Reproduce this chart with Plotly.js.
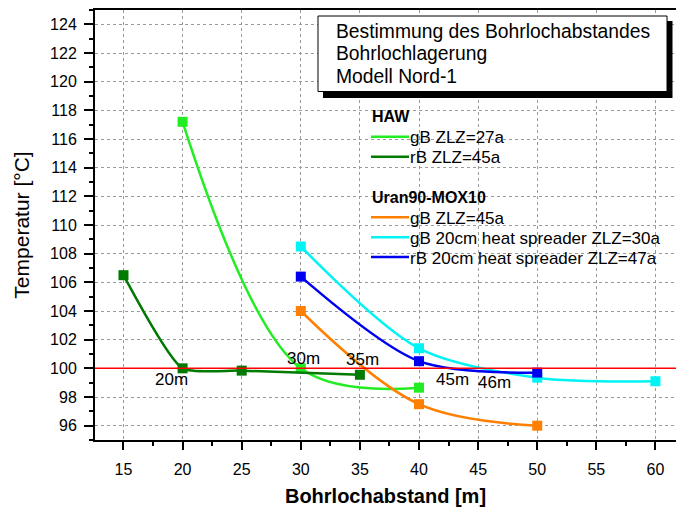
<!DOCTYPE html>
<html>
<head>
<meta charset="utf-8">
<script src="https://cdn.plot.ly/plotly-3.0.1.min.js"></script>
<style>
  html, body { margin: 0; padding: 0; background: #fff; }
  #chart { width: 676px; height: 507px; }
</style>
</head>
<body>
<div id="chart"></div>
<script>
// Borehole spacing vs. peak temperature, model "Nord-1"
// HAW canisters
const hawGbX = [20, 30, 40];
const hawGbY = [117.2, 100.0, 98.65];
const hawRbX = [15, 20, 25, 35];
const hawRbY = [106.5, 100.0, 99.84, 99.55];
// Uran90-MOX10 canisters
const moxGbX = [30, 40, 50];
const moxGbY = [104.0, 97.5, 96.0];
const moxGbSpreadX = [30, 40, 50, 60];
const moxGbSpreadY = [108.5, 101.4, 99.35, 99.1];
const moxRbSpreadX = [30, 40, 50];
const moxRbSpreadY = [106.4, 100.5, 99.7];

// Temperature limit
const limitTemp = 100;

const groupTitles = ['HAW', 'Uran90-MOX10'];
const seriesNames = [
  'gB ZLZ=27a',
  'rB ZLZ=45a',
  'gB ZLZ=45a',
  'gB 20cm heat spreader ZLZ=30a',
  'rB 20cm heat spreader ZLZ=47a'
];
const seriesColors = ['#22ec22', '#007a00', '#ff8000', '#00f4f4', '#0000f0'];
const seriesX = [hawGbX, hawRbX, moxGbX, moxGbSpreadX, moxRbSpreadX];
const seriesY = [hawGbY, hawRbY, moxGbY, moxGbSpreadY, moxRbSpreadY];
// curve tension per series (keeps the decay curves from overshooting)
const seriesSmoothing = [1.0, 0.55, 1.0, 0.85, 0.85];

// Spacing labels at the 100 °C crossing
const spacingLabels = ['20m', '30m', '35m', '45m', '46m'];

const FONT = 'Liberation Sans, Arial, sans-serif';

const traces = seriesNames.map((name, i) => ({
  type: 'scatter',
  mode: 'lines+markers',
  name: name,
  x: seriesX[i],
  y: seriesY[i],
  line: { color: seriesColors[i], width: 2.5, shape: 'spline', smoothing: seriesSmoothing[i] },
  marker: { symbol: 'square', size: 10, color: seriesColors[i] },
  showlegend: false,
  cliponaxis: false
}));

// plot area in pixels: left 95, top 10, width 581, height 430
const L = 95, T = 10, W = 581, H = 430;
const px = v => (v - L) / W;
const py = v => (T + H - v) / H;

const shapes = [];
// white backdrop behind the key
shapes.push({ type: 'rect', xref: 'paper', yref: 'paper', layer: 'between',
  x0: px(342), x1: 1, y0: py(295), y1: py(92),
  line: { width: 0 }, fillcolor: '#ffffff' });
// limit line
shapes.push({ type: 'line', xref: 'paper', yref: 'y', layer: 'above',
  x0: 0, x1: 1, y0: limitTemp, y1: limitTemp,
  line: { color: '#ff0000', width: 1.5 } });
// title box with drop shadow
shapes.push({ type: 'rect', xref: 'paper', yref: 'paper', layer: 'above',
  x0: px(323), x1: px(672.5), y0: py(98), y1: py(21),
  line: { width: 0 }, fillcolor: '#000000' });
shapes.push({ type: 'rect', xref: 'paper', yref: 'paper', layer: 'above',
  x0: px(318), x1: px(667), y0: py(91.5), y1: py(16),
  line: { color: '#000000', width: 1 }, fillcolor: '#ffffff' });

const annotations = [];
['Bestimmung des Bohrlochabstandes', 'Bohrlochlagerung', 'Modell Nord-1'].forEach((t, i) => {
  annotations.push({ xref: 'paper', yref: 'paper', x: px(334), y: py([31.5, 53.5, 76][i]),
    xanchor: 'left', yanchor: 'middle', text: t, showarrow: false,
    font: { family: FONT, size: 19.3, color: '#000' } });
});

// key: group titles and entries
const titleRows = [117, 197];
const entryRows = [136.7, 156.7, 217.3, 237.3, 257];
groupTitles.forEach((t, i) => {
  annotations.push({ xref: 'paper', yref: 'paper', x: px(370), y: py(titleRows[i]),
    xanchor: 'left', yanchor: 'middle', text: '<b>' + t + '</b>', showarrow: false,
    font: { family: FONT, size: 16, color: '#000' } });
});
seriesNames.forEach((n, i) => {
  shapes.push({ type: 'line', xref: 'paper', yref: 'paper', layer: 'above',
    x0: px(371), x1: px(409), y0: py(entryRows[i]), y1: py(entryRows[i]),
    line: { color: seriesColors[i], width: 2.5 } });
  annotations.push({ xref: 'paper', yref: 'paper', x: px(408), y: py(entryRows[i] + 1),
    xanchor: 'left', yanchor: 'middle', text: n, showarrow: false,
    font: { family: FONT, size: 17, color: '#000' } });
});

// spacing labels
const labelPos = [[19.1, 99.2], [30.2, 100.7], [35.2, 100.6], [42.8, 99.25], [46.35, 99.04]];
spacingLabels.forEach((t, i) => {
  annotations.push({ xref: 'x', yref: 'y', x: labelPos[i][0], y: labelPos[i][1],
    xanchor: 'center', yanchor: 'middle', text: t, showarrow: false,
    font: { family: FONT, size: 17, color: '#000' } });
});

const layout = {
  width: 676,
  height: 507,
  margin: { l: L, r: 0, t: T, b: 507 - T - H },
  paper_bgcolor: '#ffffff',
  plot_bgcolor: '#ffffff',
  showlegend: false,
  font: { family: FONT, size: 16, color: '#000' },
  xaxis: {
    range: [12.59, 61.74],
    tick0: 0, dtick: 5,
    ticks: 'outside', ticklen: 8, tickwidth: 2, tickcolor: '#000',
    showline: true, linewidth: 2, linecolor: '#000', mirror: true,
    showgrid: true, gridcolor: '#9a9a9a', griddash: 'dot', gridwidth: 1,
    zeroline: false,
    minor: { dtick: 2.5, ticks: 'outside', ticklen: 4, tickwidth: 2, tickcolor: '#000', showgrid: false },
    tickfont: { family: FONT, size: 16, color: '#000' },
    ticklabelstandoff: 6,
    title: { text: '<b>Bohrlochabstand [m]</b>', font: { family: FONT, size: 20, color: '#000' }, standoff: 13 }
  },
  yaxis: {
    range: [95, 125],
    tick0: 0, dtick: 2,
    ticks: 'outside', ticklen: 9, tickwidth: 2, tickcolor: '#000',
    showline: true, linewidth: 2, linecolor: '#000',
    showgrid: true, gridcolor: '#9a9a9a', griddash: 'dot', gridwidth: 1,
    zeroline: false,
    minor: { dtick: 1, ticks: 'outside', ticklen: 4, tickwidth: 2, tickcolor: '#000', showgrid: false },
    tickfont: { family: FONT, size: 16, color: '#000' },
    ticklabelstandoff: 4,
    title: { text: 'Temperatur [°C]', font: { family: FONT, size: 21, color: '#000' }, standoff: 15 }
  },
  shapes: shapes,
  annotations: annotations
};

Plotly.newPlot('chart', traces, layout, { displayModeBar: false, staticPlot: true });
</script>
</body>
</html>
